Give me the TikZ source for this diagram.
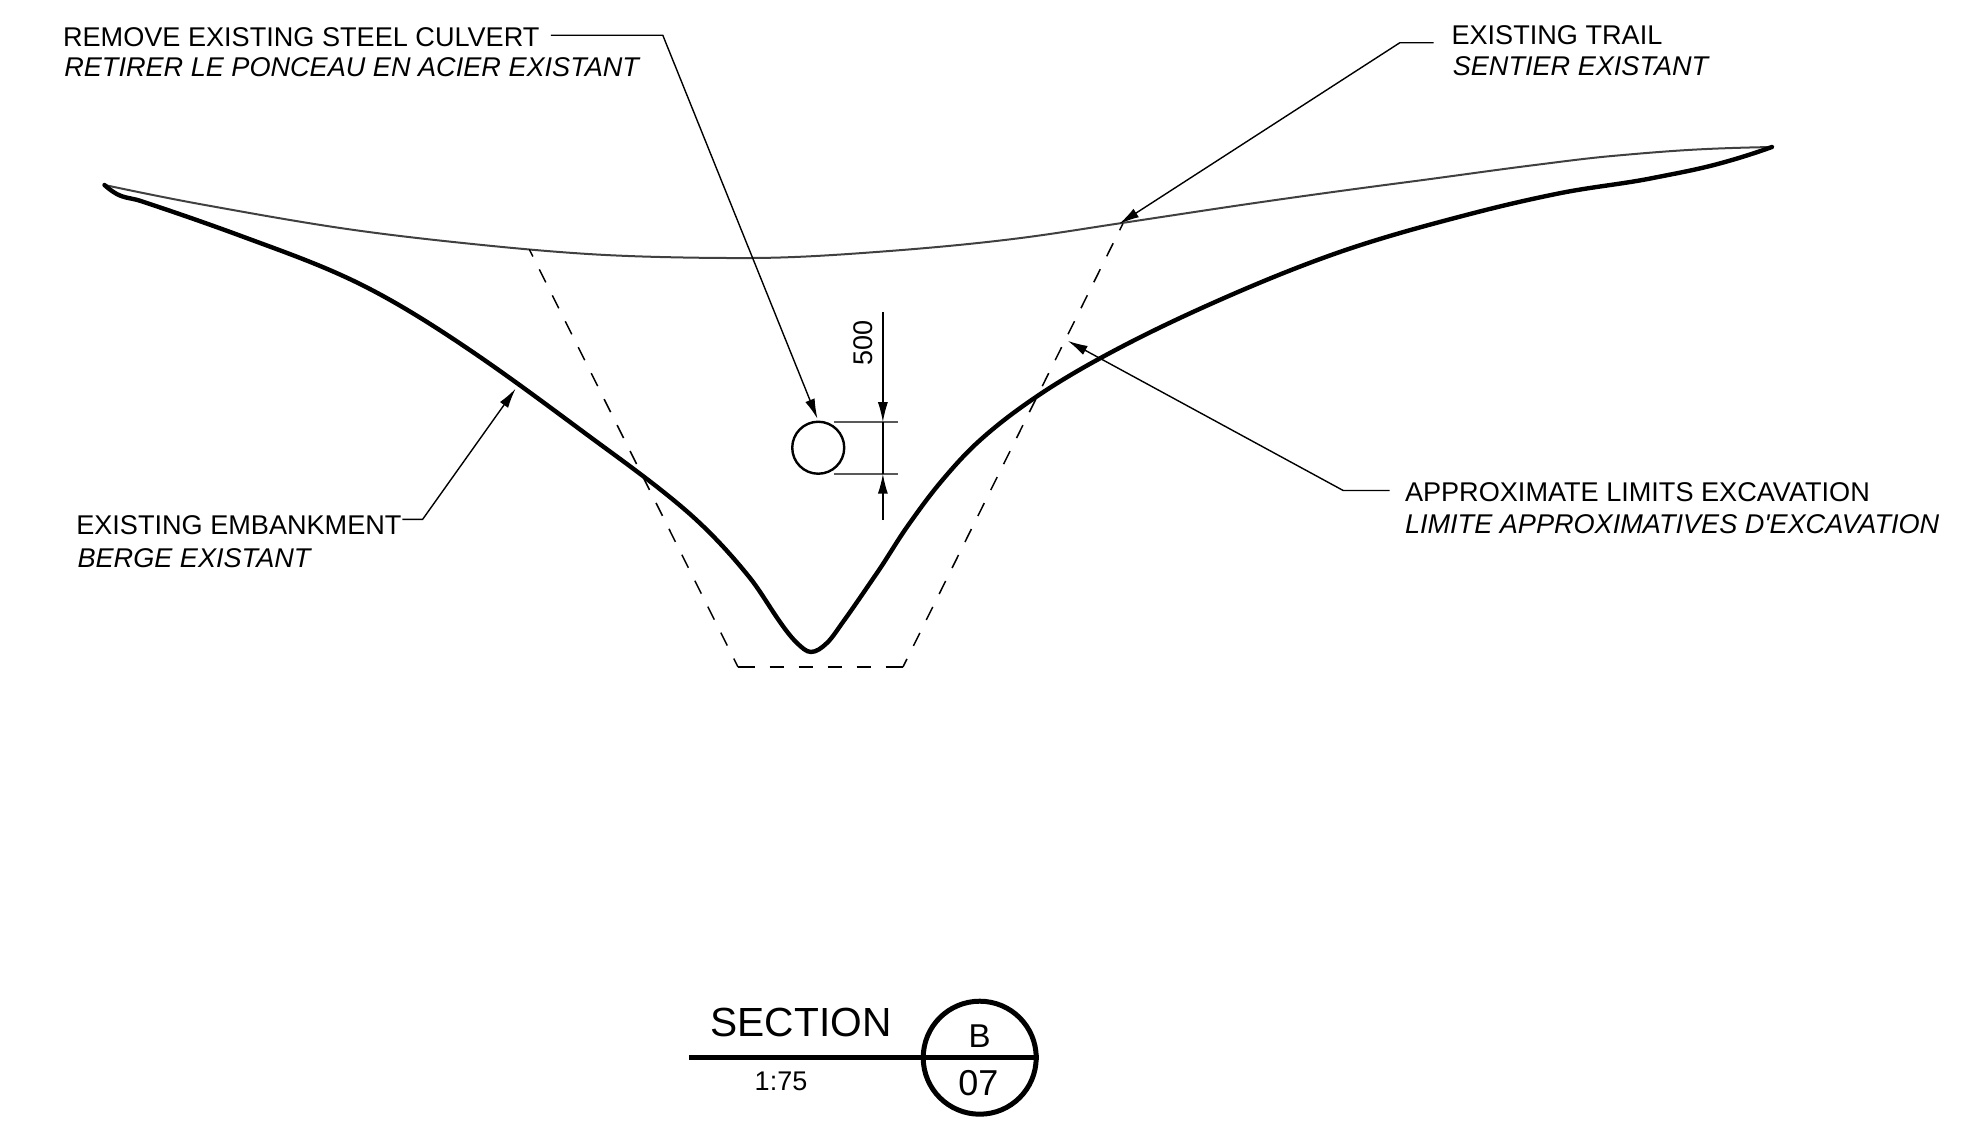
\documentclass[tikz,border=0pt]{standalone}
\usepackage{fontspec}
\setmainfont{Liberation Sans}
\newfontfamily\straightquote{Liberation Sans}
\usetikzlibrary{arrows.meta}
\tikzset{
  lab/.style={inner sep=0pt,anchor=base west,font=\fontsize{27.1}{32}\selectfont},
  labit/.style={inner sep=0pt,anchor=base west,font=\fontsize{27.1}{32}\itshape\selectfont},
  leader/.style={line width=1.4pt,-{Latex[length=20pt,width=10pt]}},
  thick line/.style={line width=4.4pt,line join=round,line cap=round},
  thin ground/.style={line width=2pt,draw=black!75},
  dashline/.style={line width=1.5pt},
  dimline/.style={line width=1.4pt},
  dimext/.style={line width=2pt,draw=black!65}
}
\begin{document}
\begin{tikzpicture}[x=1.2577pt,y=-1.2577pt]
\useasboundingbox (0,0) rectangle (1568,910.4);
% ground and embankment, read in full-size pixels: x/y/slope
\begin{scope}[x=1pt,y=-1pt]
\draw[thin ground] (104.5,185)
 \foreach \xb/\yb/\mb [remember=\xb as \xa (initially 104.5),remember=\yb as \ya (initially 185),remember=\mb as \ma (initially 0.21)] in
 {205/205/0.18,327/226/0.155,460/242.7/0.105,593/254.3/0.06,660/257/0.025,753/258/-0.005,883/251.5/-0.075,1017/238.5/-0.125,1122/223/-0.15,1255/203/-0.145,1408/182/-0.13,1535/165/-0.125,1612/156/-0.09,1688/150/-0.06,1772/147/-0.02}
 { .. controls ({\xa+(\xb-\xa)/3},{\ya+\ma*(\xb-\xa)/3}) and ({\xb-(\xb-\xa)/3},{\yb-\mb*(\xb-\xa)/3}) .. (\xb,\yb) };
\draw[thick line] (104.5,185)
 \foreach \xb/\yb/\mb [remember=\xb as \xa (initially 104.5),remember=\yb as \ya (initially 185),remember=\mb as \ma (initially 0.9)] in
 {116.8/194/0.55,139.8/200.7/0.33,243/236.7/0.37,358/283/0.49,472.7/352/0.68,587.5/435/0.74,683/508/0.85,750/578/1.25,780/622/1.42,797/643/0.95,811/652/0,827/643/-0.95,843/622/-1.38,877/573/-1.45,907/527/-1.42,940/483/-1.2,977/443/-0.92,1036/397/-0.68,1097/360/-0.55,1204/307/-0.45,1337/253/-0.35,1474/213/-0.26,1561/193/-0.2,1653/178/-0.2,1714/165/-0.26,1772/147/-0.36}
 { .. controls ({\xa+(\xb-\xa)/3},{\ya+\ma*(\xb-\xa)/3}) and ({\xb-(\xb-\xa)/3},{\yb-\mb*(\xb-\xa)/3}) .. (\xb,\yb) };
% excavation
\coordinate (e1) at (529.3,249.3); \coordinate (e2) at (738,667); \coordinate (e3) at (903,667); \coordinate (e4) at (1123,223.5);
\draw[dashline,dash pattern=on 14.5pt off 14.5pt,dash phase=6.5pt] (e1) -- (e2);
\draw[dashline,dash pattern=on 17.3pt off 14.3pt on 14.3pt off 14.7pt on 14.3pt off 14.7pt on 14.3pt off 14.7pt on 14.3pt off 14.7pt on 17pt off 10pt] (e2) -- (e3);
\draw[dashline,dash pattern=on 14.5pt off 14.5pt,dash phase=5.5pt] (e3) -- (e4);
\end{scope}
% culvert
\node[circle,draw,line width=2.4pt,minimum size=52pt,inner sep=0pt] (culvert) at (650.6,356) {};
% dimension
\coordinate (dt) at (702,248); \coordinate (dta) at (702,335.7); \coordinate (dbb) at (702,413.6); \coordinate (dba) at (702,376.6);
\coordinate (x1a) at (663,335.7); \coordinate (x1b) at (714,335.7); \coordinate (x2a) at (663,376.6); \coordinate (x2b) at (714,376.6);
\draw[dimext] (x1a) -- (x1b);
\draw[dimext] (x2a) -- (x2b);
\draw[dimline] (dta) -- (dba);
\draw[leader] (dt) -- (dta);
\draw[leader] (dbb) -- (dba);
\node[inner sep=0pt,rotate=90,font=\fontsize{27}{32}\selectfont] (dim) at (686.5,273) {500};
% labels
\node[lab] (rem1) at (50,37) {REMOVE EXISTING STEEL CULVERT};
\node[labit] (rem2) at (51,61) {RETIRER LE PONCEAU EN ACIER EXISTANT};
\node[lab] (tr1) at (1154,35) {EXISTING TRAIL};
\node[labit] (tr2) at (1155,60) {SENTIER EXISTANT};
\node[lab] (ap1) at (1117,399) {APPROXIMATE LIMITS EXCAVATION};
\node[inner sep=0pt,anchor=base west,font=\straightquote\fontsize{27.1}{32}\itshape\selectfont] (ap2) at (1117,424) {LIMITE APPROXIMATIVES D'EXCAVATION};
\node[lab] (em1) at (60.5,425) {EXISTING EMBANKMENT};
\node[labit] (em2) at (61.5,451) {BERGE EXISTANT};
% leaders
\coordinate (k1) at (527,28); \coordinate (t1) at (650,333); \coordinate (s1) at (438,28);
\draw[leader] (s1) -- (k1) -- (t1);
\coordinate (k2) at (1113,34); \coordinate (t2) at (890,178); \coordinate (s2) at (1140,34);
\draw[leader] (s2) -- (k2) -- (t2);
\coordinate (k3) at (1068,390); \coordinate (t3) at (849,271); \coordinate (s3) at (1105,390);
\draw[leader] (s3) -- (k3) -- (t3);
\coordinate (k4) at (336,413); \coordinate (t4) at (410,309); \coordinate (s4) at (320,413);
\draw[leader] (s4) -- (k4) -- (t4);
% section mark
\node[circle,draw,line width=5pt,minimum size=113pt,inner sep=0pt] (mark) at (779,841) {};
\coordinate (sl) at (548,841);
\draw[line width=4.6pt] (sl) -- (mark.east);
\node[inner sep=0pt,font=\fontsize{40.7}{46}\selectfont] (sec) at (637,813) {SECTION};
\node[inner sep=0pt,font=\fontsize{27}{32}\selectfont] (scale) at (621,860) {1:75};
\node[inner sep=0pt,font=\fontsize{33}{38}\selectfont] (b) at (779,824) {B};
\node[inner sep=0pt,font=\fontsize{36}{42}\selectfont] (num) at (778,861) {07};
\end{tikzpicture}
\end{document}
